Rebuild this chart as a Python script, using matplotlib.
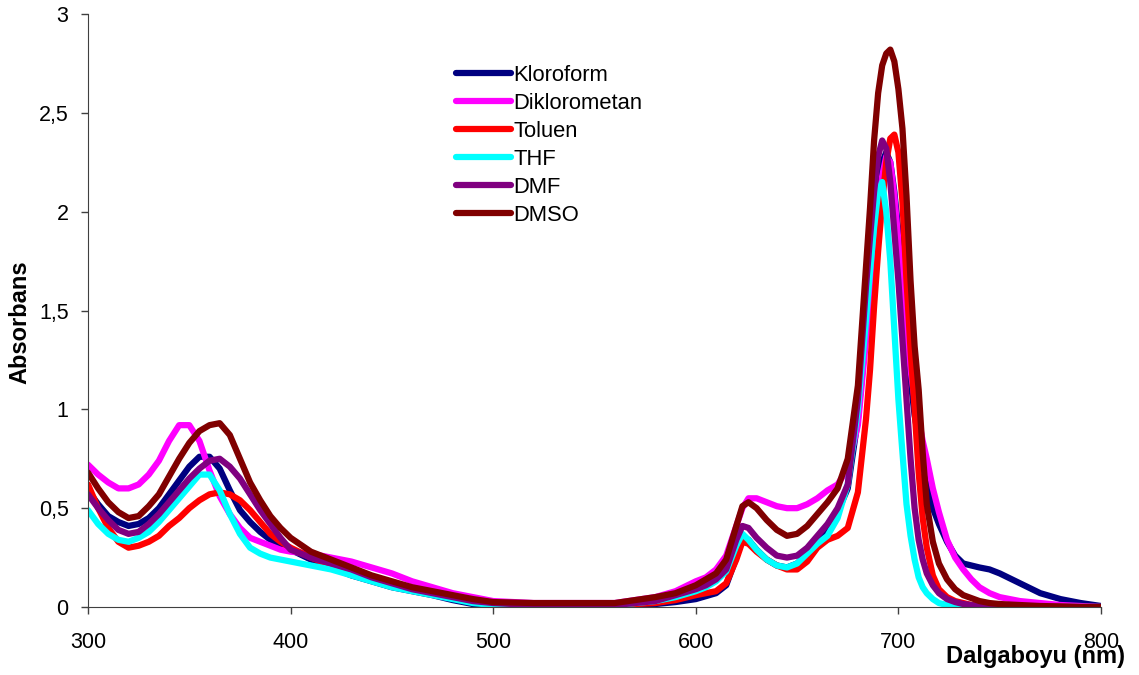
import matplotlib.pyplot as plt
from matplotlib.ticker import FuncFormatter

# dalga boyu (nm)
wl = [300, 305, 310, 315, 320, 325, 330, 335, 340, 345, 350, 355, 360, 365, 370, 375, 380, 385, 390, 395, 400,
      410, 420, 430, 440, 450, 460, 470, 480, 490, 500, 520, 540, 560, 580,
      590, 600, 605, 610, 615, 620, 623, 626, 630, 635, 640, 645, 650, 655, 660, 665, 670, 675, 680,
      684, 686, 688, 690, 692, 694, 696, 698, 700, 702, 704, 706, 708, 710, 712, 714,
      717, 720, 724, 728, 732, 736, 740, 745, 750, 760, 770, 780, 790, 800]

kloroform = [0.59, 0.52, 0.46, 0.43, 0.41, 0.42, 0.45, 0.50, 0.57, 0.64, 0.71, 0.76, 0.76, 0.70, 0.59, 0.49, 0.43, 0.38, 0.34, 0.31, 0.29,
             0.24, 0.20, 0.16, 0.13, 0.10, 0.08, 0.06, 0.035, 0.015, 0.005, 0.003, 0.003, 0.005, 0.015,
             0.025, 0.04, 0.055, 0.07, 0.11, 0.25, 0.35, 0.34, 0.29, 0.24, 0.21, 0.20, 0.22, 0.27, 0.32, 0.40, 0.48, 0.60, 0.95,
             1.40, 1.65, 1.90, 2.10, 2.25, 2.30, 2.25, 2.10, 1.90, 1.62, 1.38, 1.15, 0.97, 0.85, 0.75, 0.65,
             0.50, 0.42, 0.33, 0.26, 0.22, 0.21, 0.20, 0.19, 0.17, 0.12, 0.07, 0.04, 0.02, 0.005]

diklorometan = [0.72, 0.67, 0.63, 0.60, 0.60, 0.62, 0.67, 0.74, 0.84, 0.92, 0.92, 0.84, 0.69, 0.56, 0.47, 0.40, 0.35, 0.33, 0.31, 0.29, 0.28,
                0.27, 0.25, 0.23, 0.20, 0.17, 0.13, 0.10, 0.07, 0.05, 0.03, 0.02, 0.02, 0.02, 0.05,
                0.08, 0.13, 0.15, 0.19, 0.26, 0.41, 0.50, 0.55, 0.55, 0.53, 0.51, 0.50, 0.50, 0.52, 0.55, 0.59, 0.62, 0.70, 0.92,
                1.35, 1.58, 1.82, 2.02, 2.18, 2.28, 2.25, 2.08, 1.85, 1.62, 1.40, 1.20, 1.05, 0.95, 0.84, 0.75,
                0.60, 0.48, 0.34, 0.25, 0.19, 0.14, 0.10, 0.07, 0.05, 0.03, 0.02, 0.01, 0.005, 0.0]

toluen = [0.62, 0.50, 0.40, 0.33, 0.30, 0.31, 0.33, 0.36, 0.41, 0.45, 0.50, 0.54, 0.57, 0.58, 0.57, 0.54, 0.49, 0.43, 0.37, 0.33, 0.30,
          0.25, 0.21, 0.18, 0.15, 0.12, 0.09, 0.07, 0.05, 0.03, 0.015, 0.01, 0.01, 0.01, 0.02,
          0.035, 0.06, 0.07, 0.08, 0.12, 0.24, 0.33, 0.32, 0.28, 0.24, 0.21, 0.19, 0.19, 0.23, 0.30, 0.34, 0.36, 0.40, 0.58,
          0.95, 1.20, 1.52, 1.80, 2.05, 2.25, 2.37, 2.39, 2.30, 2.05, 1.65, 1.30, 1.00, 0.68, 0.45, 0.30,
          0.16, 0.09, 0.05, 0.03, 0.02, 0.01, 0.01, 0.005, 0.0, 0.0, 0.0, 0.0, 0.0, 0.0]

thf = [0.49, 0.42, 0.37, 0.34, 0.33, 0.35, 0.38, 0.43, 0.49, 0.55, 0.61, 0.67, 0.67, 0.59, 0.47, 0.37, 0.30, 0.27, 0.25, 0.24, 0.23,
       0.21, 0.19, 0.16, 0.13, 0.10, 0.08, 0.06, 0.04, 0.02, 0.01, 0.01, 0.01, 0.01, 0.03,
       0.05, 0.08, 0.10, 0.13, 0.18, 0.31, 0.37, 0.34, 0.29, 0.24, 0.21, 0.20, 0.22, 0.27, 0.32, 0.36, 0.45, 0.62, 1.00,
       1.45, 1.70, 1.92, 2.10, 2.15, 2.00, 1.75, 1.40, 1.05, 0.78, 0.52, 0.36, 0.24, 0.15, 0.10, 0.07,
       0.04, 0.02, 0.01, 0.005, 0.0, 0.0, 0.0, 0.0, 0.0, 0.0, 0.0, 0.0, 0.0, 0.0]

dmf = [0.57, 0.50, 0.44, 0.39, 0.37, 0.38, 0.42, 0.47, 0.53, 0.59, 0.65, 0.70, 0.74, 0.75, 0.71, 0.65, 0.57, 0.49, 0.42, 0.35, 0.29,
       0.25, 0.22, 0.19, 0.15, 0.12, 0.09, 0.07, 0.05, 0.03, 0.02, 0.01, 0.01, 0.01, 0.03,
       0.06, 0.09, 0.11, 0.14, 0.19, 0.34, 0.41, 0.40, 0.35, 0.30, 0.26, 0.25, 0.26, 0.30, 0.36, 0.42, 0.50, 0.62, 1.05,
       1.62, 1.87, 2.10, 2.28, 2.36, 2.32, 2.15, 1.90, 1.65, 1.35, 1.05, 0.75, 0.50, 0.34, 0.24, 0.17,
       0.11, 0.07, 0.04, 0.025, 0.015, 0.01, 0.005, 0.0, 0.0, 0.0, 0.0, 0.0, 0.0, 0.0]

dmso = [0.68, 0.60, 0.53, 0.48, 0.45, 0.46, 0.51, 0.57, 0.66, 0.75, 0.83, 0.89, 0.92, 0.93, 0.87, 0.75, 0.63, 0.54, 0.46, 0.40, 0.35,
        0.28, 0.24, 0.20, 0.16, 0.13, 0.10, 0.08, 0.06, 0.04, 0.025, 0.02, 0.02, 0.02, 0.05,
        0.07, 0.11, 0.14, 0.17, 0.24, 0.41, 0.51, 0.53, 0.50, 0.44, 0.39, 0.36, 0.37, 0.41, 0.47, 0.53, 0.60, 0.75, 1.12,
        1.72, 2.02, 2.36, 2.60, 2.74, 2.80, 2.82, 2.76, 2.62, 2.42, 2.08, 1.65, 1.32, 1.10, 0.78, 0.52,
        0.33, 0.22, 0.14, 0.09, 0.06, 0.045, 0.03, 0.02, 0.015, 0.01, 0.005, 0.003, 0.0, 0.0]

labels = ['Kloroform', 'Diklorometan', 'Toluen', 'THF', 'DMF', 'DMSO']
colors = ['#000080', '#FF00FF', '#FF0000', '#00FFFF', '#800080', '#800000']

plt.rcParams['font.family'] = ['Liberation Sans', 'DejaVu Sans']

fig = plt.figure(figsize=(11.39, 6.75), dpi=100)
ax = fig.add_axes([88 / 1139, 68 / 675, (1101 - 88) / 1139, (607 - 14) / 675])

for series, lab, col in zip([kloroform, diklorometan, toluen, thf, dmf, dmso], labels, colors):
    ax.plot(wl, series, color=col, lw=4.5, label=lab, solid_capstyle='round', solid_joinstyle='round')

ax.set_xlim(300, 800)
ax.set_ylim(0, 3)
ax.set_xticks([300, 400, 500, 600, 700, 800])
ax.set_yticks([0, 0.5, 1, 1.5, 2, 2.5, 3])
ax.yaxis.set_major_formatter(FuncFormatter(lambda v, p: ('%g' % v).replace('.', ',')))
ax.tick_params(direction='out', length=5, width=1, labelsize=15.5, colors='#404040', labelcolor='black')
ax.tick_params(axis='x', pad=13)
ax.tick_params(axis='y', pad=9)
for s in ['top', 'right']:
    ax.spines[s].set_visible(False)
for s in ['left', 'bottom']:
    ax.spines[s].set_color('#404040')

ax.legend(loc='upper left', bbox_to_anchor=(456 / 1139, 1 - 65 / 675), bbox_transform=fig.transFigure,
          frameon=False, fontsize=15.8, handlelength=2.5, handletextpad=0.12, labelspacing=0.32,
          borderpad=0, borderaxespad=0)

fig.text(20 / 1139, 1 - 322 / 675, 'Absorbans', rotation=90, ha='center', va='center',
         fontsize=17, fontweight='bold')
fig.text(1035 / 1139, 1 - 657 / 675, 'Dalgaboyu (nm)', ha='center', va='center',
         fontsize=17, fontweight='bold')

fig.savefig('out.png', dpi=100)
